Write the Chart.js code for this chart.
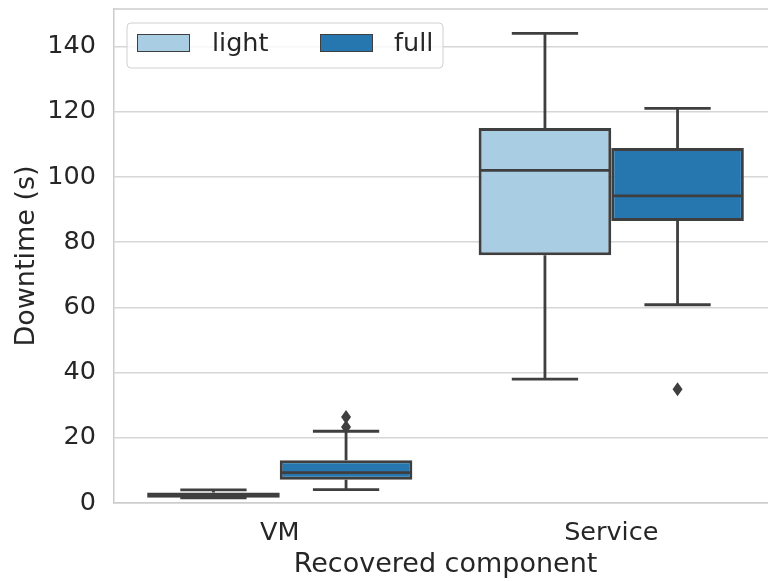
<!DOCTYPE html>
<html>
<head>
<meta charset="utf-8">
<script src="https://cdn.jsdelivr.net/npm/chart.js@4.4.0/dist/chart.umd.min.js"></script>
<style>
  html, body { margin: 0; padding: 0; background: #fff; overflow: hidden; }
  #wrap { width: 777px; height: 581px; }
</style>
</head>
<body>
<div id="wrap"><canvas id="box-chart"></canvas></div>
<script>
// categories and groups
const categories = ["VM", "Service"];
const groups = ["light", "full"];
const groupColors = ["#a9cde2", "#2676b0"];

// box stats per group, one entry per category
const lightQ1 = [1.6, 76.0];
const lightQ3 = [3.2, 115.0];
const lightMedian = [2.4, 102.0];
const lightLow = [1.6, 38.0];
const lightHigh = [4.0, 144.0];
const lightOutliers = [[], []];

const fullQ1 = [7.1, 86.5];
const fullQ3 = [13.1, 108.9];
const fullMedian = [9.3, 94.2];
const fullLow = [4.1, 60.8];
const fullHigh = [22.0, 121.0];
const fullOutliers = [[23.3, 26.4], [34.9]];

const yTicks = [0, 20, 40, 60, 80, 100, 120, 140];

const stats = [
  { q1: lightQ1, q3: lightQ3, med: lightMedian, lo: lightLow, hi: lightHigh, out: lightOutliers },
  { q1: fullQ1, q3: fullQ3, med: fullMedian, lo: fullLow, hi: fullHigh, out: fullOutliers }
];

const lineColor = "#3f3f3f";
const textColor = "#262626";
const font = "DejaVu Sans";

// whiskers, medians and fliers drawn on top of the floating bars
const boxExtras = {
  id: "boxExtras",
  afterDatasetsDraw(chart) {
    const ctx = chart.ctx;
    const y = chart.scales.y;
    ctx.save();
    ctx.strokeStyle = lineColor;
    ctx.fillStyle = lineColor;
    ctx.lineWidth = 2.8;
    stats.forEach((s, di) => {
      const meta = chart.getDatasetMeta(di);
      meta.data.forEach((bar, i) => {
        const cx = bar.x;
        const w = bar.width;
        const left = cx - w / 2 + 1.5, right = cx + w / 2 - 1.5;
        // median
        ctx.beginPath();
        ctx.moveTo(left, y.getPixelForValue(s.med[i]));
        ctx.lineTo(right, y.getPixelForValue(s.med[i]));
        ctx.stroke();
        // whiskers
        ctx.beginPath();
        ctx.moveTo(cx, y.getPixelForValue(s.q3[i]));
        ctx.lineTo(cx, y.getPixelForValue(s.hi[i]));
        ctx.moveTo(cx, y.getPixelForValue(s.q1[i]));
        ctx.lineTo(cx, y.getPixelForValue(s.lo[i]));
        // caps
        ctx.moveTo(cx - w / 4, y.getPixelForValue(s.hi[i]));
        ctx.lineTo(cx + w / 4, y.getPixelForValue(s.hi[i]));
        ctx.moveTo(cx - w / 4, y.getPixelForValue(s.lo[i]));
        ctx.lineTo(cx + w / 4, y.getPixelForValue(s.lo[i]));
        ctx.stroke();
        // outliers as diamonds
        s.out[i].forEach(v => {
          const py = y.getPixelForValue(v);
          ctx.beginPath();
          ctx.moveTo(cx, py - 7);
          ctx.lineTo(cx + 5, py);
          ctx.lineTo(cx, py + 7);
          ctx.lineTo(cx - 5, py);
          ctx.closePath();
          ctx.fill();
        });
      });
    });
    ctx.restore();
  }
};

// top spine and legend box
const frameAndLegend = {
  id: "frameAndLegend",
  afterDraw(chart) {
    const ctx = chart.ctx;
    const a = chart.chartArea;
    ctx.save();
    ctx.strokeStyle = "#cccccc";
    ctx.lineWidth = 1.5;
    ctx.beginPath();
    ctx.moveTo(a.left, a.top);
    ctx.lineTo(a.right, a.top);
    ctx.stroke();

    // legend
    const lx = 127, ly = 23, lw = 316, lh = 45;
    ctx.beginPath();
    ctx.roundRect(lx, ly, lw, lh, 4);
    ctx.fillStyle = "rgba(255,255,255,0.8)";
    ctx.fill();
    ctx.strokeStyle = "#d0d0d0";
    ctx.lineWidth = 1;
    ctx.stroke();

    const entries = [{ x: 137, tx: 212 }, { x: 320, tx: 394 }];
    ctx.font = "25.5px '" + font + "'";
    ctx.textBaseline = "middle";
    entries.forEach((e, i) => {
      ctx.fillStyle = groupColors[i];
      ctx.fillRect(e.x, 34, 53, 18);
      ctx.strokeStyle = lineColor;
      ctx.lineWidth = 1;
      ctx.strokeRect(e.x + 0.5, 34.5, 52, 17);
      ctx.fillStyle = textColor;
      ctx.fillText(groups[i], e.tx, 44);
    });
    ctx.restore();
  }
};

new Chart(document.getElementById("box-chart"), {
  type: "bar",
  data: {
    labels: categories,
    datasets: stats.map((s, i) => ({
      label: groups[i],
      data: categories.map((c, j) => [s.q1[j], s.q3[j]]),
      backgroundColor: groupColors[i],
      borderColor: lineColor,
      borderWidth: 3,
      borderSkipped: false,
      categoryPercentage: 0.8,
      barPercentage: 1.0
    }))
  },
  options: {
    responsive: true,
    maintainAspectRatio: false,
    animation: false,
    layout: { padding: { left: 0, right: 0, top: 9, bottom: 0 } },
    plugins: {
      legend: { display: false },
      tooltip: { enabled: false }
    },
    scales: {
      x: {
        grid: { display: false, drawTicks: false },
        border: { color: "#cccccc", width: 1.5 },
        ticks: { color: textColor, font: { family: font, size: 25.5 }, padding: 15 },
        title: {
          display: true,
          text: "Recovered component",
          color: textColor,
          font: { family: font, size: 27 },
          padding: { top: 0, bottom: 0 }
        },
        afterFit(scale) {
          scale.height = 78;
          scale.paddingLeft = 0;
          scale.paddingRight = 0;
        }
      },
      y: {
        min: 0,
        max: 151.5,
        afterBuildTicks(scale) { scale.ticks = yTicks.map(v => ({ value: v })); },
        grid: { color: "#d6d6d6", lineWidth: 1.5, tickLength: 0 },
        border: { color: "#cccccc", width: 1.5 },
        ticks: { color: textColor, font: { family: font, size: 25.5 }, padding: 18 },
        title: {
          display: true,
          text: "Downtime (s)",
          color: textColor,
          font: { family: font, size: 27 },
          padding: { top: 11, bottom: 0 }
        },
        afterFit(scale) {
          scale.width = 114;
          scale.paddingTop = 0;
          scale.paddingBottom = 0;
        }
      }
    }
  },
  plugins: [boxExtras, frameAndLegend]
});
</script>
</body>
</html>
